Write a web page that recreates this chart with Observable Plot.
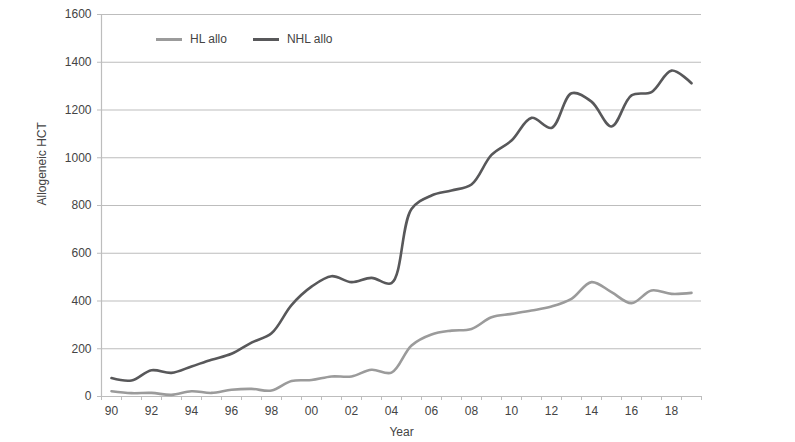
<!DOCTYPE html>
<html>
<head>
<meta charset="utf-8">
<script src="https://cdn.jsdelivr.net/npm/d3@7"></script>
<script src="https://cdn.jsdelivr.net/npm/@observablehq/plot@0.6"></script>
<style>
  html, body { margin: 0; padding: 0; background: #fff; }
  #wrap { position: relative; width: 795px; height: 442px; font-family: "Liberation Sans", Arial, sans-serif; }
  #legend { position: absolute; left: 156px; top: 32px; display: flex; align-items: center; font-size: 12px; color: #444; }
  #legend .item { display: flex; align-items: center; margin-right: 26px; }
  #legend .sw { display: inline-block; width: 26px; height: 3px; margin-right: 8px; }
</style>
</head>
<body>
<div id="wrap">
  <div id="chart"></div>
  <div id="legend"></div>
</div>
<script>
const years = d3.range(1990, 2020);
const hlAllo = [22, 14, 15, 7, 22, 15, 28, 32, 25, 65,
                69, 84, 84, 112, 100, 214, 260, 276, 283, 332,
                346, 360, 377, 409, 479, 437, 391, 444, 430, 434];
const nhlAllo = [77, 67, 110, 99, 126, 154, 179, 226, 265, 383,
                 460, 504, 479, 497, 475, 785, 842, 863, 888, 1012,
                 1072, 1167, 1125, 1270, 1235, 1131, 1261, 1275, 1365, 1312];
const seriesNames = ["HL allo", "NHL allo"];
const seriesColors = ["#9b9b9b", "#58585a"];
const yTicks = [0, 200, 400, 600, 800, 1000, 1200, 1400, 1600];
const xLabelYears = d3.range(1990, 2020, 2);

const data = [];
years.forEach((yr, i) => {
  data.push({year: yr, value: hlAllo[i], series: seriesNames[0]});
  data.push({year: yr, value: nhlAllo[i], series: seriesNames[1]});
});
const boundaries = d3.range(1989.5, 2020, 1);
const gridColor = "#bdbdbd";

const chart = Plot.plot({
  width: 795,
  height: 442,
  marginLeft: 101,
  marginRight: 94,
  marginTop: 14,
  marginBottom: 46,
  style: {fontFamily: "'Liberation Sans', Arial, sans-serif", fontSize: "12px", color: "#444", background: "#fff"},
  x: {domain: [1989.5, 2019.5], axis: null, label: null},
  y: {domain: [0, 1600], axis: null, label: null},
  color: {domain: seriesNames, range: seriesColors},
  marks: [
    Plot.ruleY(yTicks.slice(1), {stroke: gridColor, strokeWidth: 1.2}),
    Plot.axisY(yTicks, {tickSize: 4, tickPadding: 6, stroke: gridColor, fill: "#444", label: null, tickFormat: d => String(d)}),
    Plot.ruleX([1989.5], {stroke: gridColor, strokeWidth: 1.2}),
    Plot.ruleY([0], {stroke: gridColor, strokeWidth: 1.2}),
    Plot.axisX(boundaries, {tickSize: 4, stroke: gridColor, label: null, tickFormat: () => ""}),
    Plot.axisX(xLabelYears, {tickSize: 0, tickPadding: 10, fill: "#444", label: null, tickFormat: d => String(d % 100).padStart(2, "0")}),
    Plot.line(data, {x: "year", y: "value", z: "series", stroke: "series", strokeWidth: 2.6, curve: "catmull-rom"}),
    Plot.text(["Year"], {frameAnchor: "bottom", dy: 39, fill: "#444", fontSize: 12}),
    Plot.text(["Allogeneic HCT"], {frameAnchor: "left", dx: -59, rotate: -90, fill: "#444", fontSize: 12})
  ]
});
document.getElementById("chart").appendChild(chart);

const legend = document.getElementById("legend");
seriesNames.forEach((name, i) => {
  const item = document.createElement("div");
  item.className = "item";
  const sw = document.createElement("span");
  sw.className = "sw";
  sw.style.background = seriesColors[i];
  item.appendChild(sw);
  item.appendChild(document.createTextNode(name));
  legend.appendChild(item);
});
</script>
</body>
</html>
